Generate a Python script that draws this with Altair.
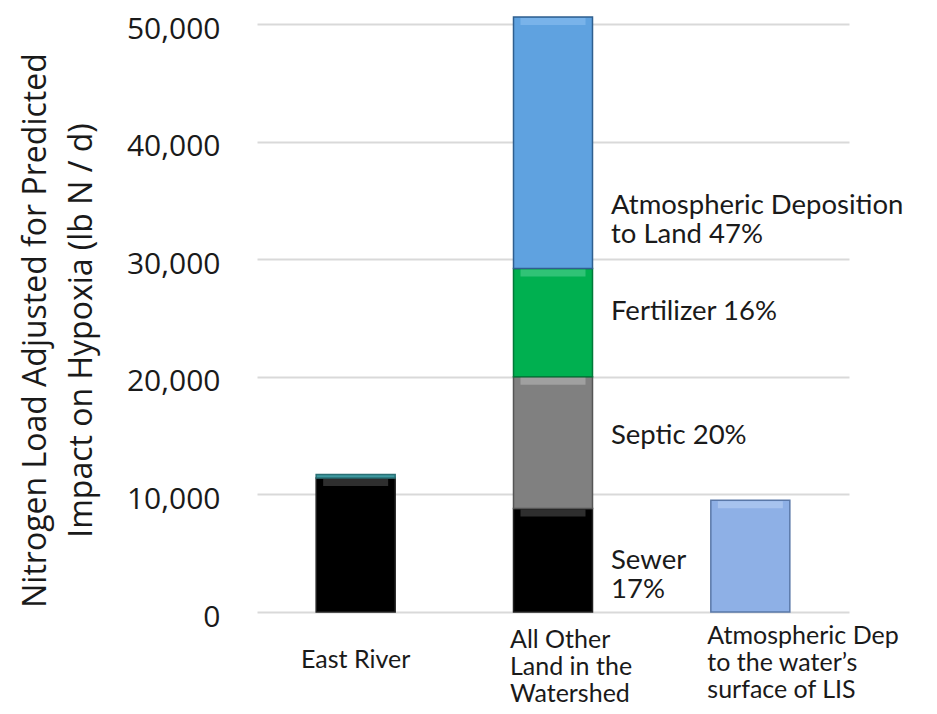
import altair as alt
import pandas as pd

# ---- data ----
categories = ["East River", "All Other|Land in the|Watershed", "Atmospheric Dep|to the water’s|surface of LIS"]
seg_category = [categories[0], categories[0], categories[1], categories[1], categories[1], categories[1], categories[2]]
seg_name = ["East River", "East River (other)", "Sewer", "Septic", "Fertilizer",
            "Atmospheric Deposition to Land", "Atmospheric Dep to Water"]
seg_value = [11400, 300, 8800, 11200, 9200, 21400, 9500]
seg_order = [1, 2, 1, 2, 3, 4, 1]

seg_colors = ["#000000", "#3f9aa0", "#000000", "#808080", "#00b050", "#5fa2e0", "#8eb0e6"]
seg_edges = ["#202020", "#2a6f74", "#202020", "#555555", "#007a38", "#2f5f8f", "#5a78a8"]
seg_light = ["#3a3a3a", "#7cc4c8", "#3a3a3a", "#a8a8a8", "#3cc880", "#80b8ec", "#aec8f0"]

ann_labels = ["Atmospheric Deposition\nto Land 47%", "Fertilizer 16%", "Septic 20%", "Sewer\n17%"]
ann_y = [34500, 25500, 14950, 4340]

y_ticks = [0, 10000, 20000, 30000, 40000, 50000]
y_title = ["Nitrogen Load Adjusted for Predicted", "Impact on Hypoxia (lb N / d)"]

df = pd.DataFrame({"category": seg_category, "segment": seg_name,
                   "value": seg_value, "order": seg_order})
ann_df = pd.DataFrame({"category": [categories[1]] * len(ann_labels),
                       "label": ann_labels, "y": ann_y})

x_axis = alt.Axis(
    title=None, domain=False, ticks=False, grid=False,
    labelExpr="split(datum.label, '|')",
    labelFont="Lato", labelFontSize=25, labelColor="#1a1a1a", labelLineHeight=27,
    labelBaseline="top", labelLimit=400,
    labelAlign={"condition": {"test": "datum.value == 'East River'", "value": "center"}, "value": "left"},
    labelOffset={"condition": {"test": "datum.value == 'East River'", "value": 0}, "value": -43},
    labelPadding={"condition": [{"test": "datum.value == 'East River'", "value": 35},
                                {"test": "indexof(datum.value, 'All Other') == 0", "value": 15}],
                  "value": 11},
    labelAngle=0,
)
y_axis = alt.Axis(
    values=y_ticks, format=",d", domain=False, ticks=False,
    gridColor="#d9d9d9", gridWidth=2,
    labelFont="Open Sans", labelFontSize=30, labelColor="#1a1a1a", labelPadding=37,
    labelOffset=5,
    title=y_title, titleFont="Open Sans", titleFontSize=32, titleFontWeight="normal",
    titleColor="#1a1a1a", titlePadding=28, titleLineHeight=46, titleY=306,
)

x_enc = alt.X("category:N", sort=categories, axis=x_axis,
              scale=alt.Scale(paddingInner=0, paddingOuter=0))
y_scale = alt.Scale(domain=[0, 50000], nice=False)

base = alt.Chart(df).transform_stack(
    stack="value", as_=["y0", "y1"], groupby=["category"],
    sort=[alt.SortField("order", order="ascending")]
)

bars = base.mark_bar(size=79, strokeWidth=1.5).encode(
    x=x_enc,
    y=alt.Y("y0:Q", scale=y_scale, axis=y_axis),
    y2="y1:Q",
    color=alt.Color("segment:N", scale=alt.Scale(domain=seg_name, range=seg_colors), legend=None),
    stroke=alt.Stroke("segment:N", scale=alt.Scale(domain=seg_name, range=seg_edges), legend=None),
)

highlight = base.transform_filter("datum.value > 1000").mark_bar(
    size=65, y2Offset=8, yOffset=1, opacity=0.8
).encode(
    x=x_enc,
    y=alt.Y("y1:Q", scale=y_scale, axis=y_axis),
    y2="y1:Q",
    fill=alt.Fill("segment:N", scale=alt.Scale(domain=seg_name, range=seg_light), legend=None),
)

labels = alt.Chart(ann_df).mark_text(
    align="left", baseline="middle", lineBreak="\n", dx=58,
    font="Lato", fontSize=27.5, lineHeight=29, color="#1a1a1a"
).encode(
    x=x_enc,
    y=alt.Y("y:Q", scale=y_scale, axis=y_axis),
    text="label:N",
)

chart = alt.layer(bars, highlight, labels).resolve_scale(
    color="independent", fill="independent"
).properties(
    width=592, height=588, autosize="none", background="white",
    padding={"left": 249, "top": 16, "right": 80, "bottom": 94},
).configure_view(strokeWidth=0, stroke=None)

chart.save("out.html", embed_options={"renderer": "svg", "actions": False})
